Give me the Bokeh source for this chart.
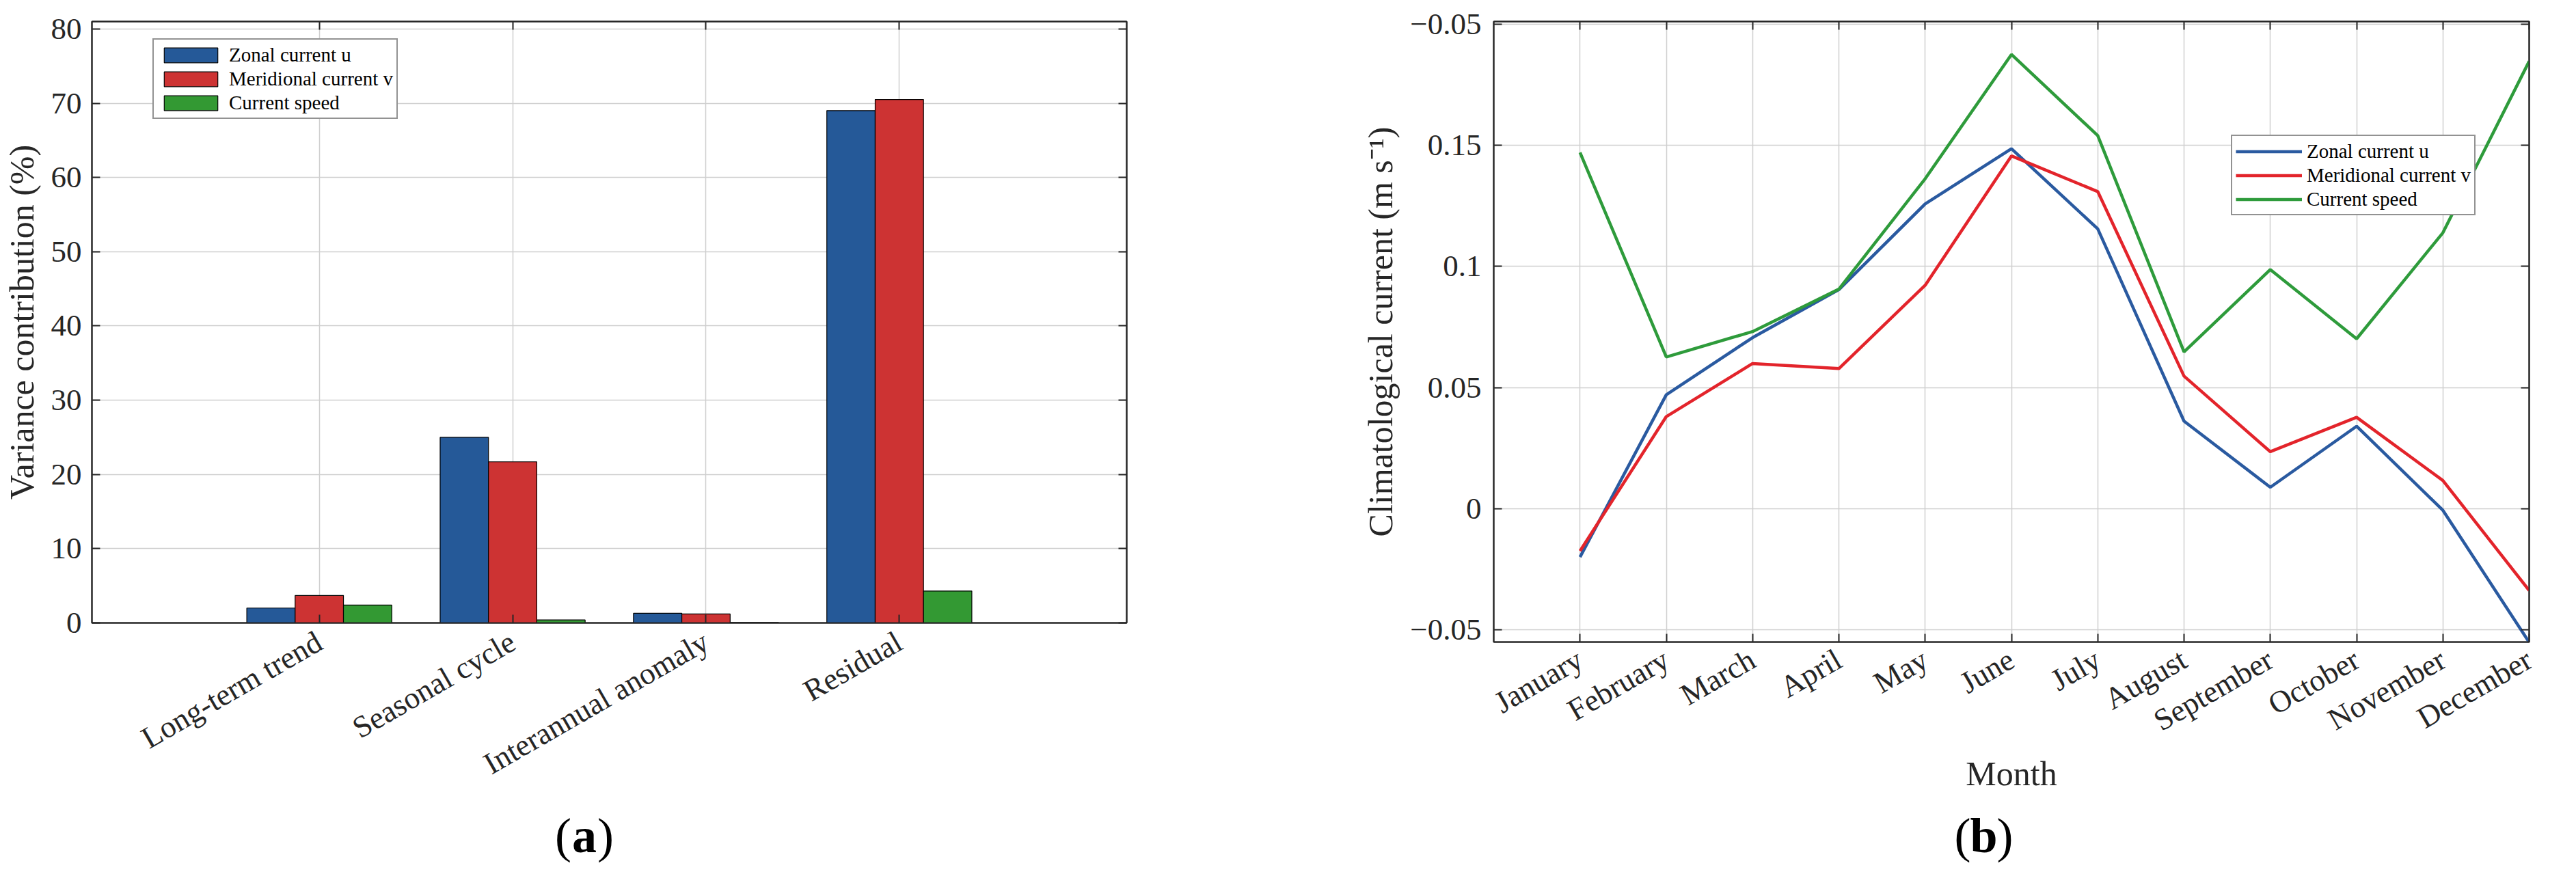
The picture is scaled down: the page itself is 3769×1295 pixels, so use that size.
import numpy as np
from math import pi
from bokeh.plotting import figure
from bokeh.models import FixedTicker, LinearAxis, Range1d
from bokeh.layouts import row, column
from bokeh.core.properties import value
from bokeh.embed import file_html
from bokeh.resources import INLINE

# ---------------- data ----------------
components = ["Long-term trend", "Seasonal cycle", "Interannual anomaly", "Residual"]
var_u = [2.0, 25.0, 1.3, 69.0]
var_v = [3.7, 21.7, 1.2, 70.5]
var_speed = [2.4, 0.4, 0.05, 4.3]
var_ticks = [0, 10, 20, 30, 40, 50, 60, 70, 80]

months = ["January", "February", "March", "April", "May", "June", "July",
          "August", "September", "October", "November", "December"]
clim_u = [-0.020, 0.047, 0.0706, 0.0904, 0.1258, 0.1486, 0.1155, 0.0361, 0.0088, 0.034, -0.0007, -0.0552]
clim_v = [-0.0175, 0.038, 0.0599, 0.0578, 0.0922, 0.1456, 0.1309, 0.0547, 0.0235, 0.0377, 0.0116, -0.0338]
clim_speed = [0.147, 0.0626, 0.0731, 0.0906, 0.1362, 0.1875, 0.154, 0.0647, 0.0987, 0.0701, 0.1139, 0.1847]
clim_ticks = [-0.05, 0.0, 0.05, 0.1, 0.15, 0.2]
clim_tick_labels = {-0.05: "\u22120.05", 0.0: "0", 0.05: "0.05", 0.1: "0.1", 0.15: "0.15", 0.2: "\u22120.05"}

FONT = "Liberation Serif"
AX = "#262626"
GRID = "#cfcfcf"

BAR_BLUE, BAR_RED, BAR_GREEN = "#255998", "#cd3333", "#339933"
LN_BLUE, LN_RED, LN_GREEN = "#2a5aa0", "#e3242b", "#2e9b3b"


def style_axis(ax, labels=True):
    ax.axis_line_color = AX
    ax.axis_line_width = 2
    ax.major_tick_in = 12
    ax.major_tick_out = 0
    ax.major_tick_line_color = AX
    ax.major_tick_line_width = 2
    ax.minor_tick_line_color = None
    ax.major_label_text_font = FONT
    ax.axis_label_text_font = FONT
    ax.axis_label_text_font_style = "normal"
    ax.axis_label_text_font_size = "50px"
    ax.axis_label_text_color = AX
    if labels:
        ax.major_label_text_font_size = "45px"
        ax.major_label_text_color = AX
    else:
        ax.major_label_text_font_size = "10px"
        ax.major_label_text_color = None
        ax.major_label_standoff = 0


def style_common(p):
    p.outline_line_color = AX
    p.outline_line_width = 2
    p.background_fill_color = "white"
    p.border_fill_color = "white"
    for g in p.grid:
        g.grid_line_color = GRID
        g.grid_line_width = 1.5


def style_legend(lg, loc, gw):
    lg.location = loc
    lg.border_line_color = AX
    lg.border_line_width = 2
    lg.background_fill_alpha = 1
    lg.label_text_font = FONT
    lg.label_text_font_size = "29px"
    lg.label_text_color = "black"
    lg.glyph_width = gw
    lg.glyph_height = 27
    lg.label_height = 34
    lg.spacing = 1
    lg.padding = 5
    lg.margin = 0
    lg.label_standoff = 7


def caption(x_range, left, right, width, xc, letter):
    c = figure(width=width, height=90, x_range=x_range, y_range=Range1d(0, 1),
               min_border_left=left, min_border_right=right, min_border_top=0, min_border_bottom=0,
               x_axis_type=None, y_axis_type=None, output_backend="svg", toolbar_location=None)
    c.outline_line_color = None
    c.border_fill_color = "white"
    common = dict(y=[0.5], text_baseline="middle", text_font=value(FONT),
                  text_font_size="72px", text_color="black")
    c.text(x=[xc], text=["("], text_align="right", x_offset=-19, **common)
    c.text(x=[xc], text=[letter], text_align="center", text_font_style="bold", **common)
    c.text(x=[xc], text=[")"], text_align="left", x_offset=19, **common)
    return c


# ---------------- panel (a) ----------------
p1 = figure(width=1872, height=1177,
            x_range=Range1d(-0.176, 5.176), y_range=Range1d(0, 81),
            min_border_left=133, min_border_right=224, min_border_top=31, min_border_bottom=266,
            output_backend="svg", toolbar_location=None)

xpos = np.arange(1, len(components) + 1)
p1.vbar(x=xpos - 0.25, top=var_u, width=0.25, fill_color=BAR_BLUE, line_color="black",
        line_width=1.2, legend_label="Zonal current u")
p1.vbar(x=xpos, top=var_v, width=0.25, fill_color=BAR_RED, line_color="black",
        line_width=1.2, legend_label="Meridional current v")
p1.vbar(x=xpos + 0.25, top=var_speed, width=0.25, fill_color=BAR_GREEN, line_color="black",
        line_width=1.2, legend_label="Current speed")

p1.xaxis.ticker = FixedTicker(ticks=list(xpos))
p1.xaxis.major_label_overrides = {int(i): c for i, c in zip(xpos, components)}
p1.xaxis.major_label_orientation = pi / 6
p1.yaxis.ticker = FixedTicker(ticks=var_ticks)
p1.yaxis.axis_label = "Variance contribution (%)"
p1.xgrid.ticker = FixedTicker(ticks=list(xpos))
p1.ygrid.ticker = FixedTicker(ticks=var_ticks)
style_axis(p1.xaxis[0])
style_axis(p1.yaxis[0])
p1.xaxis.major_label_standoff = 24
p1.yaxis.major_label_standoff = 15
p1.yaxis.axis_label_standoff = 12

top1 = LinearAxis(ticker=FixedTicker(ticks=list(xpos)))
right1 = LinearAxis(ticker=FixedTicker(ticks=var_ticks))
style_axis(top1, labels=False)
style_axis(right1, labels=False)
p1.add_layout(top1, "above")
p1.add_layout(right1, "right")
style_common(p1)
style_legend(p1.legend[0], (89, 737), 98)

# ---------------- panel (b) ----------------
p2 = figure(width=1870, height=1177,
            x_range=Range1d(0, 12), y_range=Range1d(-0.0551, 0.2011),
            min_border_left=313, min_border_right=42, min_border_top=31, min_border_bottom=238,
            output_backend="svg", toolbar_location=None)

mx = np.arange(1, len(months) + 1)
p2.line(mx, clim_u, line_color=LN_BLUE, line_width=4.5, legend_label="Zonal current u")
p2.line(mx, clim_v, line_color=LN_RED, line_width=4.5, legend_label="Meridional current v")
p2.line(mx, clim_speed, line_color=LN_GREEN, line_width=4.5, legend_label="Current speed")

p2.xaxis.ticker = FixedTicker(ticks=list(mx))
p2.xaxis.major_label_overrides = {int(i): m for i, m in zip(mx, months)}
p2.xaxis.major_label_orientation = pi / 6
p2.xaxis.axis_label = "Month"
p2.yaxis.ticker = FixedTicker(ticks=clim_ticks)
p2.yaxis.major_label_overrides = clim_tick_labels
p2.yaxis.axis_label = "Climatological current (m s\u207b\u00b9)"
p2.xgrid.ticker = FixedTicker(ticks=list(mx))
p2.ygrid.ticker = FixedTicker(ticks=clim_ticks)
style_axis(p2.xaxis[0])
style_axis(p2.yaxis[0])
p2.xaxis.major_label_standoff = 22
p2.xaxis.axis_label_standoff = 0
p2.yaxis.major_label_standoff = 18
p2.yaxis.axis_label_standoff = 12

top2 = LinearAxis(ticker=FixedTicker(ticks=list(mx)))
right2 = LinearAxis(ticker=FixedTicker(ticks=clim_ticks))
style_axis(top2, labels=False)
style_axis(right2, labels=False)
p2.add_layout(top2, "above")
p2.add_layout(right2, "right")
style_common(p2)
style_legend(p2.legend[0], (1079, 624), 97)

# ---------------- captions ----------------
cap1 = caption(p1.x_range, 133, 224, 1872, 2.371, "a")
cap2 = caption(p2.x_range, 313, 42, 1870, 5.68, "b")

layout = row(column(p1, cap1), column(p2, cap2))
open("out.html", "w").write(file_html(layout, INLINE))
